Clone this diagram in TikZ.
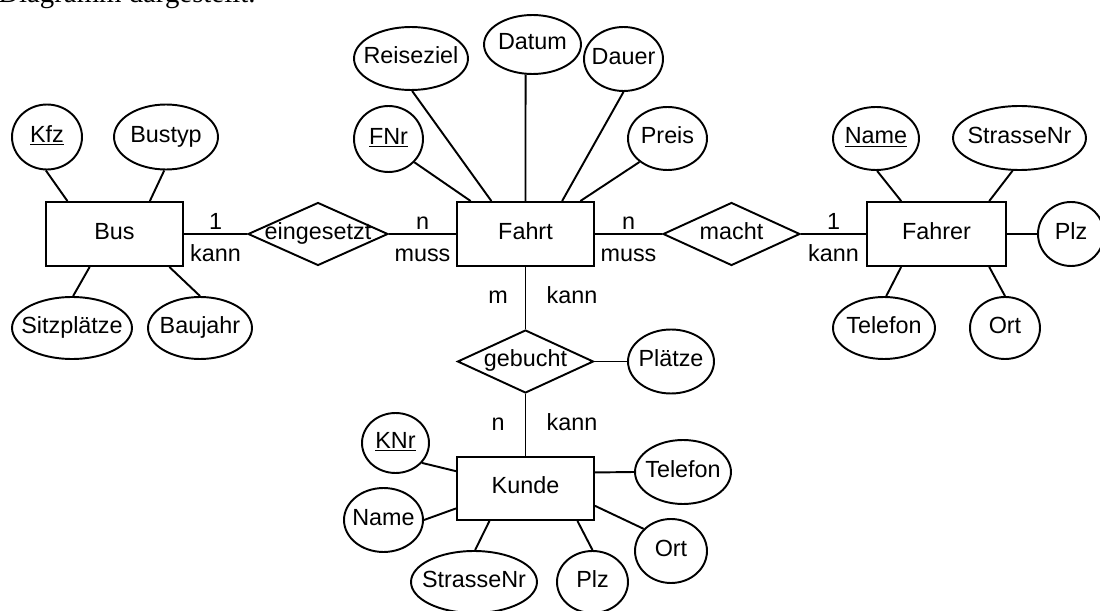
\documentclass[tikz,border=0pt]{standalone}
\usepackage{fontspec}
\setmainfont{Liberation Sans}
\newfontfamily\textserif{Liberation Serif}
\usepackage{tikz}
\usetikzlibrary{shapes}
\tikzstyle{entity} = [draw, rectangle, line width=1.1pt, minimum width=2.74cm, minimum height=1.28cm, inner sep=0pt]
\tikzstyle{relation} = [draw, diamond, line width=1.1pt, minimum width=2.76cm, minimum height=1.26cm, inner sep=0pt]
\tikzstyle{attr} = [draw, ellipse, line width=1.1pt, minimum height=1.27cm, inner sep=0pt]
\tikzstyle{line} = [draw, line width=1.1pt]

\begin{document}
\begin{tikzpicture}[x=0.02cm, y=-0.02cm, font=\fontsize{13.3pt}{16pt}\selectfont, text height=1.5ex, text depth=.4ex]
            \useasboundingbox (0,0) rectangle (1100,611);
            \node[anchor=base west, inner sep=0pt, text height=, text depth=, font=\textserif\fontsize{16.4pt}{19pt}\selectfont] (caption) at (-2,3) {Diagramm dargestellt.};

            % Entitaeten und Beziehungen
            \node[entity] (bus) at (114.5,234) {Bus};
            \node[relation, minimum width=2.8cm] (eing) at (318,234) {\makebox[0pt]{eingesetzt}};
            \node[entity] (fahrt) at (525.5,234) {Fahrt};
            \node[relation, minimum width=2.74cm] (macht) at (731.5,234) {\makebox[0pt]{macht}};
            \node[entity, minimum width=2.78cm] (fahrer) at (936.5,234) {Fahrer};
            \node[relation, minimum width=2.72cm] (gebucht) at (525.5,361.5) {\makebox[0pt]{gebucht}};
            \node[entity, minimum height=1.26cm] (kunde) at (525.5,488.5) {Kunde};

            % Attribute Bus
            \node[attr, minimum width=1.4cm, minimum height=1.3cm] (kfz) at (47,137) {\makebox[0pt]{\underline{Kfz}}};
            \node[attr, minimum width=2.08cm, minimum height=1.3cm] (bustyp) at (166,137) {\makebox[0pt]{Bustyp}};
            \node[attr, minimum width=2.4cm, minimum height=1.24cm] (sitz) at (72,328) {\makebox[0pt]{Sitzplätze}};
            \node[attr, minimum width=2.08cm, minimum height=1.24cm] (baujahr) at (200,328) {\makebox[0pt]{Baujahr}};

            % Attribute Fahrt
            \node[attr, minimum width=1.38cm, minimum height=1.32cm] (fnr) at (388.5,139) {\makebox[0pt]{\underline{FNr}}};
            \node[attr, minimum width=2.28cm, minimum height=1.26cm] (reise) at (411,58.5) {\makebox[0pt]{Reiseziel}};
            \node[attr, minimum width=1.94cm, minimum height=1.18cm] (datum) at (532.5,44.5) {\makebox[0pt]{Datum}};
            \node[attr, minimum width=1.58cm, minimum height=1.28cm] (dauer) at (623.5,59) {\makebox[0pt]{Dauer}};
            \node[attr, minimum width=1.58cm, minimum height=1.26cm] (preis) at (667.5,138.5) {\makebox[0pt]{Preis}};

            % Attribute Fahrer
            \node[attr, minimum width=1.72cm, minimum height=1.26cm] (fname) at (876,138.5) {\makebox[0pt]{\underline{Name}}};
            \node[attr, minimum width=2.66cm, minimum height=1.28cm] (fstr) at (1019.5,138) {\makebox[0pt]{StrasseNr}};
            \node[attr, minimum width=1.32cm, minimum height=1.28cm] (fplz) at (1071,234) {\makebox[0pt]{Plz}};
            \node[attr, minimum width=2.04cm, minimum height=1.24cm] (ftel) at (884,328) {\makebox[0pt]{Telefon}};
            \node[attr, minimum width=1.4cm, minimum height=1.24cm] (fort) at (1005,328) {\makebox[0pt]{Ort}};

            % Attribute gebucht und Kunde
            \node[attr, minimum width=1.72cm, minimum height=1.28cm] (plaetze) at (671,361.5) {\makebox[0pt]{Plätze}};
            \node[attr, minimum width=1.34cm, minimum height=1.2cm] (knr) at (395.5,443) {\makebox[0pt]{\underline{KNr}}};
            \node[attr, minimum width=1.58cm, minimum height=1.28cm] (kname) at (383.5,520) {\makebox[0pt]{Name}};
            \node[attr, minimum width=2.52cm, minimum height=1.24cm] (kstr) at (474,582) {\makebox[0pt]{StrasseNr}};
            \node[attr, minimum width=1.42cm, minimum height=1.24cm] (kplz) at (592.5,582) {\makebox[0pt]{Plz}};
            \node[attr, minimum width=1.92cm, minimum height=1.28cm] (ktel) at (683,472) {\makebox[0pt]{Telefon}};
            \node[attr, minimum width=1.44cm, minimum height=1.28cm] (kort) at (671,551) {\makebox[0pt]{Ort}};

            % Beziehungen mit Kardinalitaeten
            \path[line] (bus) -- node[yshift=0.2cm] {1} node[yshift=-0.44cm] {kann} (eing);
            \path[line] (eing) -- node[yshift=0.2cm] {n} node[yshift=-0.44cm] {muss} (fahrt);
            \path[line] (fahrt) -- node[yshift=0.2cm] {n} node[yshift=-0.44cm] {muss} (macht);
            \path[line] (macht) -- node[yshift=0.2cm] {1} node[yshift=-0.44cm] {kann} (fahrer);
            \path[line] (fahrt) -- node[xshift=-0.55cm] {m} node[xshift=0.93cm] {kann} (gebucht);
            \path[line] (gebucht) -- node[xshift=-0.55cm] {n} node[xshift=0.93cm] {kann} (kunde);
            \path[line] (gebucht) -- (plaetze);

            % Attributlinien
            \path[line] (kfz.268) -- (bus.145);
            \path[line] (bustyp.267) -- (bus.43);
            \path[line] (sitz.88) -- (bus.233);
            \path[line] (baujahr.90) -- (bus.329);
            \path[line] (fnr.318) -- (fahrt.149);
            \path[line] (reise.272) -- (fahrt.136);
            \path[line] (datum.257) -- (fahrt.north);
            \path[line] (dauer.270) -- (fahrt.42);
            \path[line] (preis.220) -- (fahrt.31);
            \path[line] (fname.272) -- (fahrer.137);
            \path[line] (fstr.258) -- (fahrer.32);
            \path[line] (fahrer) -- (fplz);
            \path[line] (ftel.86) -- (fahrer.223);
            \path[line] (fort.90) -- (fahrer.328);
            \path[line] (knr.323) -- (kunde.166);
            \path[line] (kname.east) -- (kunde.196);
            \path[line] (kstr.88) -- (kunde.222);
            \path[line] (kplz.90) -- (kunde.328);
            \path[line] (kunde.13) -- (ktel.west);
            \path[line] (kort.141) -- (kunde.346);
          \end{tikzpicture}
\end{document}
